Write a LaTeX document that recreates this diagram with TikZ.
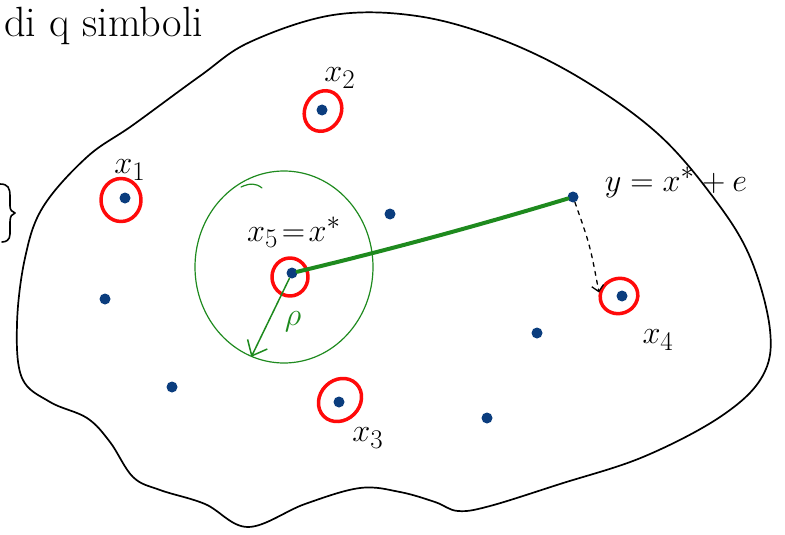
\documentclass[tikz,border=0pt]{standalone}
\usetikzlibrary{shapes.geometric,arrows.meta}
\definecolor{dotblue}{HTML}{0B3D7E}
\definecolor{ringred}{HTML}{FF0A0A}
\definecolor{pengreen}{HTML}{1E8A1E}
\tikzset{
  pt/.style={circle,fill=dotblue,inner sep=0pt,minimum size=11pt},
  ring/.style={ellipse,draw=ringred,line width=3.5pt,inner sep=0pt},
  lbl/.style={inner sep=0pt,font=\Huge,scale=1.3},
  titlelbl/.style={inner sep=0pt,font=\Huge,scale=1.7},
}
\begin{document}
\begin{tikzpicture}[x=1pt,y=-1pt,line cap=round,line join=round]
  \useasboundingbox (0,0) rectangle (785,535);
  % the whole space
  \draw[line width=1.7pt] plot[smooth cycle,tension=0.6] coordinates {
    (87,157) (133,125) (200,76) (250,42) (333,15) (417,16) (500,39)
    (580,78) (657,133) (713,197) (750,257) (770,330) (762,377) (720,417)
    (643,457) (560,484) (490,506) (458,511) (435,502) (400,492) (360,488)
    (305,504) (248,527) (205,504) (160,490) (133,477) (110,442)
    (87,418) (50,402) (22,378) (17,324) (25,258) (43,207)};
  % brace cut by the left edge
  \draw[line width=1.6pt] (0,184) .. controls (8,184) and (10,188) .. (10,196)
    -- (10,206) .. controls (10,210) and (12,212) .. (15,213)
    .. controls (12,214) and (10,216) .. (10,222) -- (10,234)
    .. controls (10,240) and (6,242) .. (2,242);
  \node[titlelbl,anchor=base west] (title) at (4,37) {di q simboli};
  % points of the space
  \node[pt] (x1) at (125,198) {};
  \node[pt] (x2) at (322,110) {};
  \node[pt] (x3) at (339,402) {};
  \node[pt] (x4) at (622,296) {};
  \node[pt] (x5) at (292,273) {};
  \node[pt] (y) at (573,197) {};
  \node[pt] (p1) at (390,214) {};
  \node[pt] (p2) at (105,299) {};
  \node[pt] (p3) at (537,333) {};
  \node[pt] (p4) at (172,387) {};
  \node[pt] (p5) at (487,418) {};
  % code words
  \node[ring,minimum width=40pt,minimum height=43pt] (r1) at (121,200) {};
  \node[ring,minimum width=42pt,minimum height=36pt,rotate=60] (r2) at (323,111) {};
  \node[ring,minimum width=46pt,minimum height=40pt,rotate=45] (r3) at (340,400) {};
  \node[ring,minimum width=38pt,minimum height=35pt,rotate=20] (r4) at (619,296) {};
  \node[ring,minimum width=36pt,minimum height=38pt] (r5) at (290,277) {};
  % ball of radius rho
  \node[ellipse,draw=pengreen,line width=1.2pt,inner sep=0pt,
    minimum width=178pt,minimum height=192pt] (ball) at (284,267) {};
  \draw[pengreen,line width=1.2pt] (241,187) .. controls (250,183) and (256,183) .. (262,188);
  \draw[pengreen,line width=4pt] (x5) .. controls (380,252) and (470,228) .. (y);
  \draw[pengreen,line width=1.5pt,-{Straight Barb[length=13pt,width=22pt]}] (x5) -- (ball.-110);
  \node[lbl,text=pengreen] (rho) at (293,322) {$\rho$};
  \draw[line width=1.3pt,dash pattern=on 4pt off 5pt,-{Straight Barb[length=6pt,width=12pt]}]
    (y.-70) .. controls (590,245) .. (r4.150);
  % labels
  \node[lbl] (l1) at (130,170) {$x_1$};
  \node[lbl] (l2) at (340,78) {$x_2$};
  \node[lbl] (l3) at (368,438) {$x_3$};
  \node[lbl] (l4) at (658,340) {$x_4$};
  \node[lbl] (l5) at (294,232) {$x_5\!=\!x^*$};
  \node[lbl,anchor=base] (ly) at (676,191) {$y = x^* + e$};
\end{tikzpicture}
\end{document}
